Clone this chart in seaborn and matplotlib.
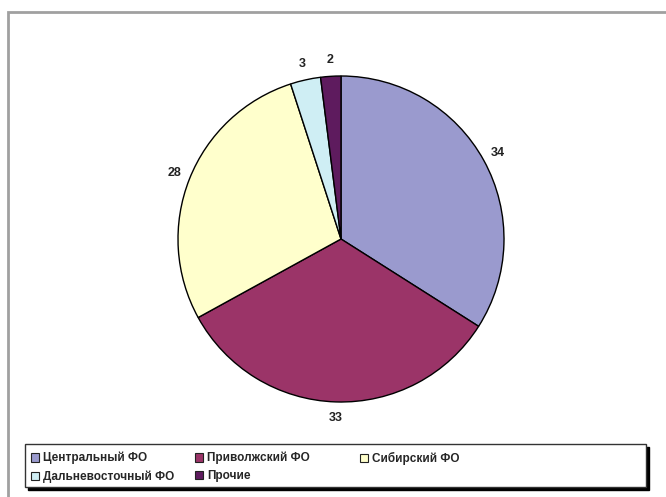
import matplotlib
matplotlib.use('Agg')
import matplotlib.pyplot as plt
import seaborn as sns
from matplotlib.patches import Rectangle, Patch

# data
regions = ['Центральный ФО', 'Приволжский ФО', 'Сибирский ФО', 'Дальневосточный ФО', 'Прочие']
shares = [34, 33, 28, 3, 2]
colors = ['#9A9ACE', '#9B3468', '#FFFFCC', '#CFEEF4', '#5E1B5E']

sns.set_theme(style='white')
plt.rcParams['font.family'] = ['Liberation Sans', 'DejaVu Sans']

W, H = 666, 497
fig = plt.figure(figsize=(W / 100, H / 100), dpi=100)

# outer frame of the chart area
fig.add_artist(Rectangle((8 / W, -0.1), 1.0, 1 - 12 / H + 0.1, transform=fig.transFigure,
                         fill=False, edgecolor='#A0A0A0', linewidth=2.0))

# pie
cx, cy, r = 341, 239, 163
ax = fig.add_axes([(cx - r) / W, 1 - (cy + r) / H, 2 * r / W, 2 * r / H])
wedges, texts = ax.pie(shares, labels=[str(v) for v in shares], colors=sns.color_palette(colors),
                       startangle=90, counterclock=False, labeldistance=1.1,
                       wedgeprops=dict(edgecolor='black', linewidth=1.0),
                       textprops=dict(fontsize=9, fontweight='bold', color='#222222'))
for t in texts:
    t.set_horizontalalignment('center')
    t.set_verticalalignment('center')
ax.set_xlim(-1, 1)
ax.set_ylim(-1, 1)
ax.set_aspect('equal')
ax.axis('off')

# legend box with shadow
lx0, ly0, lx1, ly1 = 25, 444, 646, 487
fig.add_artist(Rectangle(((lx0 + 3) / W, 1 - (ly1 + 3) / H), (lx1 - lx0) / W, (ly1 - ly0) / H,
                         transform=fig.transFigure, facecolor='black', edgecolor='black', linewidth=1))
fig.add_artist(Rectangle((lx0 / W, 1 - ly1 / H), (lx1 - lx0) / W, (ly1 - ly0) / H,
                         transform=fig.transFigure, facecolor='white', edgecolor='#333333', linewidth=1))

# Excel-like legend: fixed-width columns, filled row by row
col_x = [31, 195, 360]
for c, x in enumerate(col_x):
    idx = list(range(c, len(regions), 3))
    handles = [Patch(facecolor=colors[i], edgecolor='#222222', linewidth=0.8) for i in idx]
    fig.legend(handles, [regions[i] for i in idx], loc='upper left',
               bbox_to_anchor=(x / W, 1 - 452 / H), frameon=False,
               prop=dict(size=8.5, weight='bold'), handlelength=0.7, handleheight=0.7,
               handletextpad=0.3, labelspacing=0.5, borderpad=0.0, borderaxespad=0.0)

fig.savefig('out.png', dpi=100)
